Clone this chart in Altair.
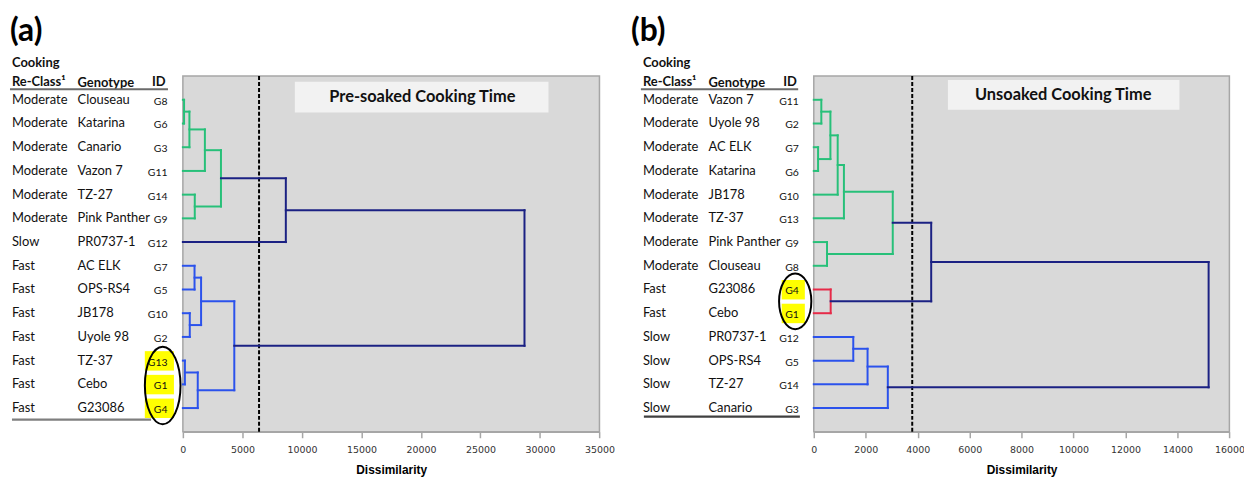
import altair as alt
import pandas as pd

# ---------------- panel (a): pre-soaked cooking time ----------------
a_class = ["Moderate", "Moderate", "Moderate", "Moderate", "Moderate", "Moderate", "Slow",
           "Fast", "Fast", "Fast", "Fast", "Fast", "Fast", "Fast"]
a_genotype = ["Clouseau", "Katarina", "Canario", "Vazon 7", "TZ-27", "Pink Panther", "PR0737-1",
              "AC ELK", "OPS-RS4", "JB178", "Uyole 98", "TZ-37", "Cebo", "G23086"]
a_id = ["G8", "G6", "G3", "G11", "G14", "G9", "G12", "G7", "G5", "G10", "G2", "G13", "G1", "G4"]
# agglomeration steps m1..m13: left child, right child, dissimilarity, branch colour
a_left = ["G8", "m1", "m2", "G14", "m3", "m5", "G7", "G10", "m7", "G13", "m10", "m9", "m6"]
a_right = ["G6", "G3", "G11", "G9", "m4", "G12", "G5", "G2", "m8", "G1", "G4", "m11", "m12"]
a_height = [100, 550, 1850, 1000, 3200, 8650, 980, 580, 1530, 170, 1250, 4320, 28700]
a_group = ["green", "green", "green", "green", "green", "navy",
           "blue", "blue", "blue", "blue", "blue", "blue", "navy"]
a_ticks = [0, 5000, 10000, 15000, 20000, 25000, 30000, 35000]
a_cut = [6400]
a_title = ["Pre-soaked Cooking Time"]
a_highlight = ["G13", "G1", "G4"]

# ---------------- panel (b): unsoaked cooking time ----------------
b_class = ["Moderate", "Moderate", "Moderate", "Moderate", "Moderate", "Moderate", "Moderate",
           "Moderate", "Fast", "Fast", "Slow", "Slow", "Slow", "Slow"]
b_genotype = ["Vazon 7", "Uyole 98", "AC ELK", "Katarina", "JB178", "TZ-37", "Pink Panther",
              "Clouseau", "G23086", "Cebo", "PR0737-1", "OPS-RS4", "TZ-27", "Canario"]
b_id = ["G11", "G2", "G7", "G6", "G10", "G13", "G9", "G8", "G4", "G1", "G12", "G5", "G14", "G3"]
b_left = ["G11", "G7", "m1", "m3", "m4", "G9", "m5", "G4", "m7", "G12", "m10", "m11", "m9"]
b_right = ["G2", "G6", "m2", "G10", "G13", "G8", "m6", "G1", "m8", "G5", "G14", "G3", "m12"]
b_height = [290, 165, 640, 920, 1160, 510, 3040, 650, 4520, 1520, 2070, 2850, 15200]
b_group = ["green", "green", "green", "green", "green", "green", "green", "red", "navy",
           "blue", "blue", "blue", "navy"]
b_ticks = [0, 2000, 4000, 6000, 8000, 10000, 12000, 14000, 16000]
b_cut = [3790]
b_title = ["Unsoaked Cooking Time"]
b_highlight = ["G4", "G1"]

panel_labels = ["(a)", "(b)"]
header = ["Cooking", "Re-Class\u00b9", "Genotype", "ID"]

group_names = ["green", "blue", "navy", "red"]
group_colors = ["#27c079", "#2b52ec", "#1b2183", "#e62a48"]

# ---------------- layout (pixels inside the chart) ----------------
Y_SCALE = alt.Scale(domain=[0, 15], range=[67, 425], nice=False, zero=False)

LAYOUT_A = dict(xrange=[176, 595.3], lab=2, cls=4, geno=70, idr=160.5, hl=[137.7, 167],
                hline=[2, 161, 80.3], bline=[4, 144, 412.7, "#7f7f7f"],
                ell_x=155.7, ell_y=13.05, ell_size=6084, ell_ratio=0.46,
                box=[288.7, 544, 72.7, 103.7], box_text=[417, 88.2], hdr_id=158.7)
LAYOUT_B = dict(xrange=[811, 1229.3], lab=627, cls=639, geno=705, idr=796, hl=[778.7, 802],
                hline=[637, 795.3, 80.3], bline=[640, 797, 409.7, "#404040"],
                ell_x=792.3, ell_y=9.5, ell_size=3136, ell_ratio=0.58,
                box=[946, 1179, 71, 101], box_text=[1062, 86.3], hdr_id=794)


def segments(ids, left, right, height, group):
    pos = {g: i + 1 for i, g in enumerate(ids)}
    hx = {g: 0 for g in ids}
    rows = []
    for k, (l, r, h, c) in enumerate(zip(left, right, height, group)):
        rows.append(dict(x=hx[l], x2=h, y=pos[l], y2=pos[l], c=c))
        rows.append(dict(x=hx[r], x2=h, y=pos[r], y2=pos[r], c=c))
        rows.append(dict(x=h, x2=h, y=pos[l], y2=pos[r], c=c))
        name = "m%d" % (k + 1)
        pos[name] = (pos[l] + pos[r]) / 2
        hx[name] = h
    return pd.DataFrame(rows)


def panel(label, cls, geno, ids, left, right, height, group, ticks, cut, title, highlight, L):
    xs = alt.Scale(domain=[ticks[0], ticks[-1]], range=L["xrange"], nice=False, zero=False)
    axis = alt.Axis(values=ticks, orient="bottom", grid=False, title="Dissimilarity", format="d",
                    labelFont="DejaVu Sans", labelFontSize=9.5, labelColor="#333333",
                    tickColor="#a6a6a6", domainColor="#a6a6a6", tickSize=6, tickWidth=1.5,
                    domainWidth=1.5, labelPadding=7, labelOverlap=False, labelFlush=False,
                    titleFont="Liberation Sans", titleFontWeight="bold", titleFontSize=12,
                    titleColor="black", titlePadding=10)

    frame = pd.DataFrame({"x": [ticks[0]], "x2": [ticks[-1]], "y": [0], "y2": [15]})
    bg = alt.Chart(frame).mark_rect(fill="#d9d9d9", stroke="#a6a6a6", strokeWidth=1.5).encode(
        x=alt.X("x:Q", scale=xs, axis=axis), x2="x2:Q",
        y=alt.Y("y:Q", scale=Y_SCALE, axis=None), y2="y2:Q")

    tdf = pd.DataFrame({"t": title})
    box = alt.Chart(tdf).mark_rect(fill="#f2f2f2").encode(
        x=alt.value(L["box"][0]), x2=alt.value(L["box"][1]),
        y=alt.value(L["box"][2]), y2=alt.value(L["box"][3]))
    box_t = alt.Chart(tdf).mark_text(font="Lato", fontWeight="bold", fontSize=16.5,
                                     align="center", baseline="middle", color="#111111").encode(
        x=alt.value(L["box_text"][0]), y=alt.value(L["box_text"][1]), text="t:N")

    cdf = pd.DataFrame({"v": cut})
    cutline = alt.Chart(cdf).mark_rule(color="black", strokeWidth=2, strokeDash=[4, 2]).encode(
        x=alt.X("v:Q", scale=xs, axis=axis), y=alt.value(67), y2=alt.value(425))

    seg = alt.Chart(segments(ids, left, right, height, group)).mark_rule(
        strokeWidth=2, strokeCap="square").encode(
        x=alt.X("x:Q", scale=xs, axis=axis), x2="x2:Q",
        y=alt.Y("y:Q", scale=Y_SCALE, axis=None), y2="y2:Q",
        color=alt.Color("c:N", scale=alt.Scale(domain=group_names, range=group_colors), legend=None))

    rows = pd.DataFrame({"idx": list(range(1, len(ids) + 1)), "cls": cls, "geno": geno, "gid": ids})
    ycol = alt.Y("idx:Q", scale=Y_SCALE, axis=None)

    hl = rows[rows["gid"].isin(highlight)].copy()
    hl["lo"] = hl["idx"] - 0.40
    hl["hi"] = hl["idx"] + 0.42
    yellow = alt.Chart(hl).mark_rect(fill="#ffff00").encode(
        x=alt.value(L["hl"][0]), x2=alt.value(L["hl"][1]),
        y=alt.Y("lo:Q", scale=Y_SCALE, axis=None), y2="hi:Q")

    t_cls = alt.Chart(rows).mark_text(font="Lato", fontSize=13, align="left", baseline="middle",
                                      color="#111111").encode(x=alt.value(L["cls"]), y=ycol, text="cls:N")
    t_geno = alt.Chart(rows).mark_text(font="Lato", fontSize=13, align="left", baseline="middle",
                                       color="#111111").encode(x=alt.value(L["geno"]), y=ycol, text="geno:N")
    t_id = alt.Chart(rows).mark_text(font="Lato", fontSize=10.5, align="right", baseline="middle",
                                     dy=2, color="#111111").encode(x=alt.value(L["idr"]), y=ycol, text="gid:N")

    ell = alt.Chart(pd.DataFrame({"e": [L["ell_y"]]})).mark_point(
        shape="M0,-1A%s,1,0,1,1,0,1A%s,1,0,1,1,0,-1Z" % (L["ell_ratio"], L["ell_ratio"]),
        filled=False, stroke="black", strokeWidth=2, opacity=1, size=L["ell_size"]).encode(
        x=alt.value(L["ell_x"]), y=alt.Y("e:Q", scale=Y_SCALE, axis=None))

    lab = alt.Chart(pd.DataFrame({"t": [label]})).mark_text(
        font="Lato", fontWeight="bold", fontSize=32, align="left", baseline="alphabetic",
        color="black").encode(x=alt.value(L["lab"]), y=alt.value(32), text="t:N")

    hdr = []
    hpos = [(L["cls"], 58, "left"), (L["cls"], 77, "left"), (L["geno"], 77.5, "left"),
            (L["hdr_id"], 77, "right")]
    for txt, (hx_, hy_, al) in zip(header, hpos):
        hdr.append(alt.Chart(pd.DataFrame({"t": [txt]})).mark_text(
            font="Lato", fontWeight="bold", fontSize=13, align=al, baseline="alphabetic",
            color="#111111").encode(x=alt.value(hx_), y=alt.value(hy_), text="t:N"))

    hline = alt.Chart(pd.DataFrame({"t": ["h"]})).mark_rule(color="#6b6b6b", strokeWidth=2).encode(
        x=alt.value(L["hline"][0]), x2=alt.value(L["hline"][1]),
        y=alt.value(L["hline"][2]), y2=alt.value(L["hline"][2]))
    bline = alt.Chart(pd.DataFrame({"t": ["b"]})).mark_rule(color=L["bline"][3], strokeWidth=2.2).encode(
        x=alt.value(L["bline"][0]), x2=alt.value(L["bline"][1]),
        y=alt.value(L["bline"][2]), y2=alt.value(L["bline"][2]))

    return alt.layer(bg, box, box_t, cutline, seg, yellow, t_cls, t_geno, t_id, ell, lab,
                     *hdr, hline, bline)


pa = panel(panel_labels[0], a_class, a_genotype, a_id, a_left, a_right, a_height, a_group,
           a_ticks, a_cut, a_title, a_highlight, LAYOUT_A)
pb = panel(panel_labels[1], b_class, b_genotype, b_id, b_left, b_right, b_height, b_group,
           b_ticks, b_cut, b_title, b_highlight, LAYOUT_B)

chart = alt.layer(pa, pb).resolve_scale(x="independent").properties(
    width=1244, height=425,
    padding={"left": 0, "top": 0, "right": 0, "bottom": 44},
    autosize=alt.AutoSizeParams(type="none"),
    background="white",
).configure_view(stroke=None)

chart.save("out.html", embed_options={"renderer": "svg", "actions": False})
